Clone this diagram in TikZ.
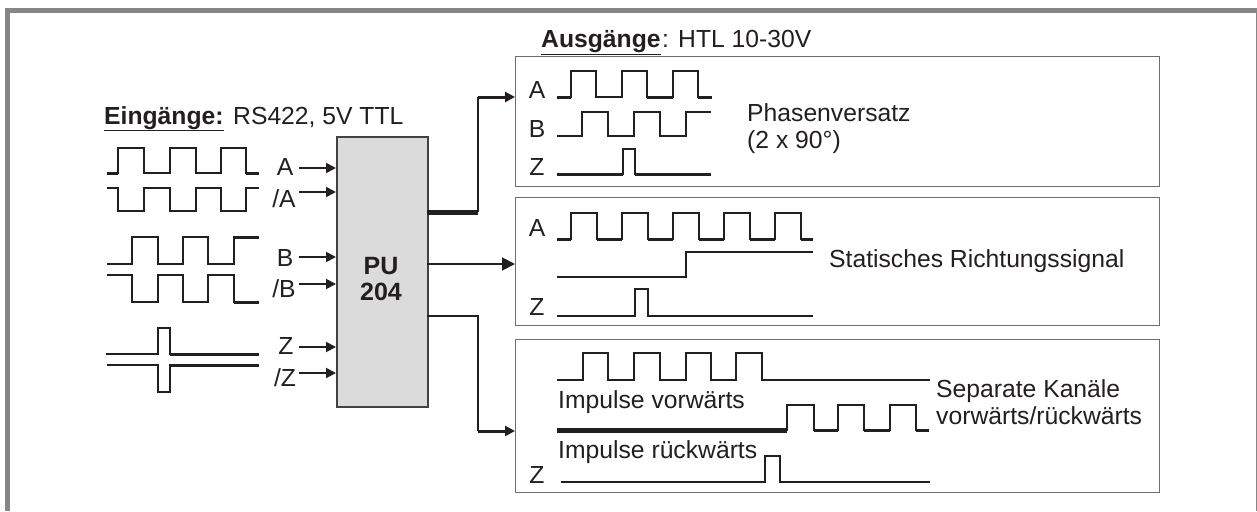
\documentclass[tikz,border=0pt]{standalone}
\usepackage{fontspec}
\setmainfont{Liberation Sans}
\usetikzlibrary{arrows.meta}
\definecolor{ink}{HTML}{231F20}
\definecolor{framegray}{HTML}{868686}
\definecolor{boxedge}{HTML}{6E6E6E}
\tikzset{
  wave/.style={draw=ink,line width=1.9,line join=miter},
  heavy/.style={draw=ink,line width=3},
  heavier/.style={draw=ink,line width=5},
  arr/.style={draw=ink,line width=1.9,-{Triangle[length=10,width=10]}},
  lab/.style={font=\fontsize{24.7}{25}\selectfont,text=ink,inner sep=0,anchor=base west},
  sig/.style={lab,anchor=base},
  outbox/.style={draw=boxedge,line width=1.4,fill=white,inner sep=0,anchor=north west},
}
\begin{document}
\begin{tikzpicture}[x=1pt,y=-1pt]
\useasboundingbox (0,0) rectangle (1257,511);
\fill[white] (0,0) rectangle (1257,511);
% frame
\fill[framegray] (5,8) rectangle (1257,13);
\fill[framegray] (5,8) rectangle (10,511);
\fill[framegray] (1256,8) rectangle (1257,511);
% output boxes
\node[outbox,minimum width=644,minimum height=130] (box1) at (515,56) {};
\node[outbox,minimum width=644,minimum height=128] (box2) at (515,197) {};
\node[outbox,minimum width=644,minimum height=153] (box3) at (515,339) {};
% PU
\node[draw=ink!85,line width=2,fill=black!14,inner sep=0,anchor=north west,
  minimum width=91,minimum height=270] (pu) at (336,136) {};
\node[font=\fontsize{25}{26}\selectfont\bfseries,text=ink,align=center,inner sep=0,anchor=center] (putext) at (381,279) {PU\\204};
% headings
\node[lab] (einT) at (104,124) {\underline{\textbf{Eingänge:}}};
\node[lab] (einS) at (233,124) {RS422, 5V TTL};
\node[lab] (ausT) at (541,48) {\underline{\textbf{Ausgänge}}};
\node[lab] (ausS) at (662,48) {: HTL 10-30V};
% input labels
\node[sig] (lA) at (285,175) {A};
\node[sig] (lnA) at (284,207) {/A};
\node[sig] (lB) at (285,266) {B};
\node[sig] (lnB) at (284,297) {/B};
\node[sig] (lZ) at (286,354) {Z};
\node[sig] (lnZ) at (285,386) {/Z};
% input arrows
\foreach \n/\y in {iA/168,inA/192,iB/257,inB/284,iZ/347,inZ/373}{
  \coordinate (\n) at (299,\y);
  \draw[arr] (\n) -- (\n -| pu.west);
}
% output connectors
\coordinate (o1) at (427,212);
\coordinate (o2) at (427,264);
\coordinate (o3) at (427,316);
\coordinate (t1) at (515,97);
\coordinate (t3) at (515,431);
\coordinate (k1) at (478,212);
\coordinate (k3) at (478,316);
\draw[heavier] (o1) -- (k1);
\draw[wave] (k1) -- (k1 |- t1);
\draw[arr,line width=3] (k1 |- t1) -- (t1);
\draw[arr,-{Triangle[length=13,width=13]}] (o2) -- (o2 -| box2.west);
\draw[wave] (o3) -- (k3) -- (k3 |- t3);
\draw[arr,line width=3] (k3 |- t3) -- (t3);
% input waves
\draw[wave] (107,173) -- (118,173) -- (118,148) -- (144,148) -- (144,173) -- (170,173) -- (170,148) -- (196,148) -- (196,173) -- (221,173) -- (221,148) -- (246,148) -- (246,173) -- (259,173);
\draw[wave] (107,188) -- (118,188) -- (118,211) -- (144,211) -- (144,188) -- (170,188) -- (170,211) -- (196,211) -- (196,188) -- (221,188) -- (221,211) -- (246,211) -- (246,188) -- (259,188);
\draw[wave] (107,264) -- (132,264) -- (132,237) -- (158,237) -- (158,264) -- (183,264) -- (183,237) -- (208,237) -- (208,264) -- (234,264) -- (234,237) -- (259,237);
\draw[wave] (107,275) -- (132,275) -- (132,302) -- (158,302) -- (158,275) -- (183,275) -- (183,302) -- (208,302) -- (208,275) -- (234,275) -- (234,302) -- (259,302);
\draw[wave] (106,354) -- (158,354) -- (158,328) -- (170,328) -- (170,354) -- (259,354);
\draw[wave] (107,365) -- (158,365) -- (158,392) -- (170,392) -- (170,365) -- (259,365);
\draw[heavy] (170,354) -- (259,354);
\draw[heavy] (170,365) -- (259,365);
\draw[heavy] (107,173) -- (118,173) (246,173) -- (259,173);
\draw[heavy] (234,237) -- (259,237) (234,302) -- (259,302);
% box 1
\node[sig] (a1) at (537,98) {A};
\node[sig] (b1) at (537,137) {B};
\node[sig] (z1) at (537,175) {Z};
\draw[wave] (557,97) -- (571,97) -- (571,71) -- (596,71) -- (596,97) -- (622,97) -- (622,71) -- (647,71) -- (647,97) -- (673,97) -- (673,71) -- (698,71) -- (698,97) -- (712,97);
\draw[wave] (557,136) -- (582,136) -- (582,112) -- (608,112) -- (608,136) -- (634,136) -- (634,112) -- (660,112) -- (660,136) -- (686,136) -- (686,112) -- (711,112);
\draw[wave] (557,174) -- (623,174) -- (623,149) -- (635,149) -- (635,174) -- (711,174);
\draw[heavy] (557,174) -- (623,174) (635,174) -- (711,174);
\draw[heavy] (647,97) -- (673,97) (698,97) -- (712,97) (557,97) -- (571,97);
\node[lab] (ph1) at (747,121) {Phasenversatz};
\node[lab] (ph2) at (747,148) {(2 x 90°)};
% box 2
\node[sig] (a2) at (537,236) {A};
\node[sig] (z2) at (537,315) {Z};
\draw[wave] (557,239) -- (571,239) -- (571,213) -- (597,213) -- (597,239) -- (622,239) -- (622,213) -- (648,213) -- (648,239) -- (673,239) -- (673,213) -- (699,213) -- (699,239) -- (724,239) -- (724,213) -- (750,213) -- (750,239) -- (775,239) -- (775,213) -- (801,213) -- (801,239) -- (813,239);
\draw[heavy] (557,239) -- (571,239) (597,239) -- (622,239) (648,239) -- (673,239) (699,239) -- (724,239) (750,239) -- (775,239) (801,239) -- (813,239);
\draw[wave] (557,277) -- (686,277) -- (686,252) -- (813,252);
\draw[wave] (557,316) -- (635,316) -- (635,289) -- (648,289) -- (648,316) -- (813,316);
\node[lab] (st) at (829,267) {Statisches Richtungssignal};
% box 3
\draw[wave] (557,380) -- (583,380) -- (583,353) -- (608,353) -- (608,380) -- (634,380) -- (634,353) -- (660,353) -- (660,380) -- (686,380) -- (686,353) -- (711,353) -- (711,380) -- (736,380) -- (736,353) -- (762,353) -- (762,380) -- (930,380);
\draw[wave] (557,430) -- (787,430) -- (787,405) -- (814,405) -- (814,430) -- (838,430) -- (838,405) -- (864,405) -- (864,430) -- (890,430) -- (890,405) -- (916,405) -- (916,430) -- (929,430);
\draw[heavier] (557,430) -- (787,430);
\draw[heavy] (814,430) -- (838,430) (864,430) -- (890,430) (916,430) -- (929,430);
\draw[wave] (561,482) -- (765,482) -- (765,456) -- (780,456) -- (780,482) -- (930,482);
\node[sig] (z3) at (537,483) {Z};
\node[lab] (iv) at (558,408) {Impulse vorwärts};
\node[lab] (ir) at (558,458) {Impulse rückwärts};
\node[lab] (sk1) at (936,397) {Separate Kanäle};
\node[lab] (sk2) at (936,424) {vorwärts/rückwärts};
\end{tikzpicture}
\end{document}
